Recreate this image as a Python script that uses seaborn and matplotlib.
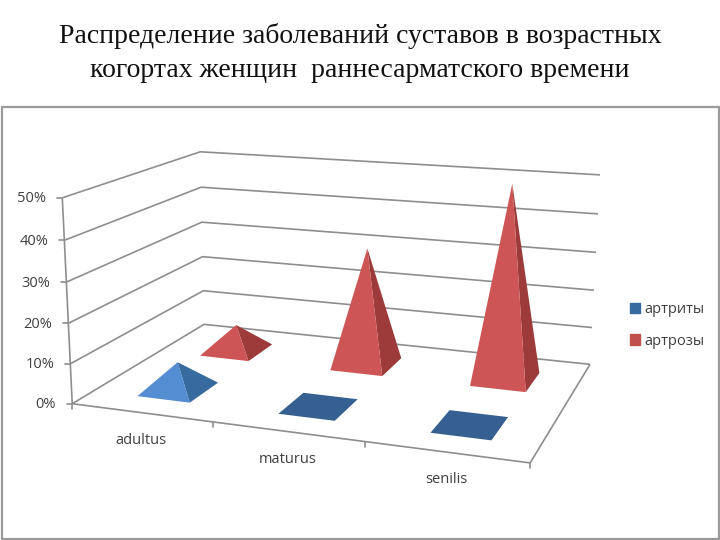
import numpy as np
import matplotlib
matplotlib.use("Agg")
import matplotlib.pyplot as plt
from matplotlib.patches import Patch, Rectangle
import seaborn as sns

# ---- data ----
categories = ["adultus", "maturus", "senilis"]
series_names = ["артриты", "артрозы"]
arthritis = [7, 0, 0]
arthrosis = [7, 31, 50]
pct_ticks = [0, 10, 20, 30, 40, 50]
title_text = "Распределение заболеваний суставов в возрастных\nкогортах женщин  раннесарматского времени"

# ---- style ----
sns.set_theme(style="white")
plt.rcParams["font.family"] = ["Open Sans", "DejaVu Sans"]
palette = sns.color_palette(["#4f81bd", "#c0504d"])
front_cols = {0: "#558dd3", 1: "#cd5555"}
side_cols = {0: "#376a9e", 1: "#9c3b39"}
flat_cols = {0: "#366092", 1: "#9c3b39"}
LINE = "#8e8e8e"
TXT = "#404040"

# ---- camera fitted to the wall/floor corners (scene x, depth, pct) -> pixels ----
calib = [
    ((0, 0, 0), (73, 404)), ((3, 0, 0), (530, 463)),
    ((0, 1, 0), (204, 324)), ((3, 1, 0), (590, 364)),
    ((0, 0, 10), (70, 364)), ((0, 0, 20), (68, 323)), ((0, 0, 30), (66, 282)),
    ((0, 0, 40), (64, 240)), ((0, 0, 50), (63, 198)),
    ((0, 1, 10), (203, 291)), ((0, 1, 20), (203, 257)), ((0, 1, 30), (202, 222)),
    ((0, 1, 40), (201, 187)), ((0, 1, 50), (200, 152)),
    ((3, 1, 10), (592, 328)), ((3, 1, 20), (594, 290)), ((3, 1, 30), (596, 252)),
    ((3, 1, 40), (598, 214)), ((3, 1, 50), (600, 175)),
]
rows = []
for (x, y, z), (u, v) in calib:
    z = z / 50
    rows.append([x, y, z, 1, 0, 0, 0, 0, -u * x, -u * y, -u * z, -u])
    rows.append([0, 0, 0, 0, x, y, z, 1, -v * x, -v * y, -v * z, -v])
P = np.linalg.svd(np.array(rows, float))[2][-1].reshape(3, 4)


def project(x, y, z):
    h = P @ np.array([x, y, z / 50, 1.0])
    return h[0] / h[2], h[1] / h[2]


fig = plt.figure(figsize=(7.2, 5.4), dpi=100, facecolor="white")
ax = fig.add_axes([0, 0, 1, 1])
ax.set_xlim(0, 720)
ax.set_ylim(540, 0)
ax.axis("off")


def line(pts, **kw):
    xy = np.array([project(*p) for p in pts])
    ax.plot(xy[:, 0], xy[:, 1], color=LINE, lw=1.2, solid_capstyle="butt", **kw)


# chart frame and title
ax.add_patch(Rectangle((1.5, 107), 717, 432, fill=False, ec="#9a9a9a", lw=1.6))
ax.text(360, 53, title_text, ha="center", va="center", fontsize=20, color="#111111",
        family="Liberation Serif", linespacing=1.5)

# walls and floor
for v in pct_ticks:
    line([(0, 0, v), (0, 1, v), (3, 1, v)])
    x0, y0 = project(0, 0, v)
    ax.plot([x0 - 5, x0], [y0, y0], color=LINE, lw=1.2)
    ax.text(x0 - 16, y0 + 1, f"{v}%", ha="right", va="center", fontsize=10.5, color=TXT)
line([(0, 0, 0), (0, 0, 50)])
line([(0, 0, 0), (3, 0, 0), (3, 1, 0)])
for i in range(len(categories) + 1):
    x0, y0 = project(i, 0, 0)
    ax.plot([x0, x0], [y0, y0 + 5], color=LINE, lw=1.2)
for i, c in enumerate(categories):
    x0, y0 = project(i + 0.5, 0, 0)
    ax.text(x0, y0 + 27.5, c, ha="center", va="center", fontsize=10.5, color=TXT)

# pyramids, back row first
HALF_X, HALF_Y = 0.19, 0.11
X_SHIFT = 0.015
DEPTH = {0: 0.25, 1: 0.73}
for s, vals in reversed(list(enumerate([arthritis, arthrosis]))):
    for i, val in enumerate(vals):
        cx, cy = i + 0.5 + X_SHIFT, DEPTH[s]
        fl = project(cx - HALF_X, cy - HALF_Y, 0)
        fr = project(cx + HALF_X, cy - HALF_Y, 0)
        br = project(cx + HALF_X, cy + HALF_Y, 0)
        bl = project(cx - HALF_X, cy + HALF_Y, 0)
        apex = project(cx, cy, val)
        if val == 0:
            ax.fill(*zip(fl, fr, br, bl), color=flat_cols[s], lw=0, zorder=3)
        else:
            ax.fill(*zip(fr, br, apex), color=side_cols[s], lw=0, zorder=3 + i)
            ax.fill(*zip(fl, fr, apex), color=front_cols[s], lw=0, zorder=3 + i)

# legend
handles = [Patch(color=side_cols[0] if k == 0 else palette[k]) for k in range(2)]
ax.legend(handles, series_names, loc="center left", bbox_to_anchor=(617, 325.5),
          bbox_transform=ax.transData, frameon=False, fontsize=10.5, labelcolor=TXT,
          handlelength=0.7, handleheight=0.7, handletextpad=0.3, labelspacing=1.1)

fig.savefig("out.png", dpi=100, facecolor="white")
